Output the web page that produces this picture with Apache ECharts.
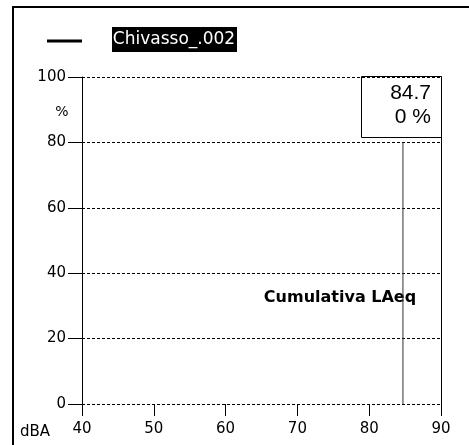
<!DOCTYPE html>
<html>
<head>
<meta charset="utf-8">
<script src="https://cdn.jsdelivr.net/npm/echarts@6/dist/echarts.min.js"></script>
<style>
  html, body { margin: 0; padding: 0; background: #fff; }
  #chart { width: 469px; height: 445px; }
</style>
</head>
<body>
<div id="chart"></div>
<script>
// Axis ranges and ticks
const xTicks = [40, 50, 60, 70, 80, 90];
const yTicks = [0, 20, 40, 60, 80, 100];
// Cursor position (dBA) and cumulative percentage read at it
const cursorLevel = 84.7;
const cursorPercent = 0;
// Vertical extent of the cursor line (%)
const cursorSpan = [0, 80];
const seriesName = 'Chivasso_.002';
const chartTitle = 'Cumulativa LAeq';

const chart = echarts.init(document.getElementById('chart'), null, { renderer: 'canvas' });

const labelFont = 'DejaVu Sans';

chart.setOption({
  animation: false,
  grid: { left: 82, top: 77, right: 28, bottom: 41, containLabel: false },
  xAxis: {
    type: 'value',
    min: xTicks[0], max: xTicks[xTicks.length - 1], interval: 10,
    axisLine: { show: false },
    axisTick: { show: true, length: 12, inside: false, lineStyle: { color: '#000', width: 1 } },
    axisLabel: { margin: 18, fontSize: 15, color: '#000', fontFamily: labelFont },
    splitLine: { show: false }
  },
  yAxis: [{
    type: 'value',
    min: yTicks[0], max: yTicks[yTicks.length - 1], interval: 20,
    axisLine: { show: true, lineStyle: { color: '#000', width: 1 } },
    axisTick: { show: true, length: 14, inside: false, lineStyle: { color: '#000', width: 1 } },
    axisLabel: { margin: 16, fontSize: 15, color: '#000', fontFamily: labelFont },
    splitLine: { show: true, lineStyle: { color: '#000', width: 1, type: [3, 2] } }
  }, {
    type: 'value', position: 'right',
    min: yTicks[0], max: yTicks[yTicks.length - 1], interval: 20,
    axisLine: { show: true, onZero: false, lineStyle: { color: '#000', width: 1 } },
    axisTick: { show: false }, axisLabel: { show: false }, splitLine: { show: false }
  }],
  series: [{
    name: 'cursor',
    type: 'line',
    data: cursorSpan.map(v => [cursorLevel, v]),
    symbol: 'none',
    lineStyle: { color: '#333', width: 1 },
    silent: true
  }],
  graphic: [
    // outer frame
    { type: 'polyline', shape: { points: [[13, 445], [13, 7], [469, 7]] },
      style: { stroke: '#000', lineWidth: 2, fill: null } },
    // legend
    { type: 'line', shape: { x1: 47, y1: 41, x2: 82, y2: 41 }, style: { stroke: '#000', lineWidth: 3 } },
    { type: 'rect', shape: { x: 112, y: 27, width: 125, height: 25 }, style: { fill: '#000' } },
    { type: 'text', x: 174, y: 40, style: { text: seriesName, fill: '#fff', font: '17px "DejaVu Sans"', align: 'center', verticalAlign: 'middle' } },
    // axis names
    { type: 'text', x: 62, y: 112, style: { text: '%', fill: '#000', font: '14px "DejaVu Sans"', align: 'center', verticalAlign: 'middle' } },
    { type: 'text', x: 20, y: 432, style: { text: 'dBA', fill: '#000', font: '15px "DejaVu Sans"', align: 'left', verticalAlign: 'middle' } },
    // cursor readout box
    { type: 'rect', shape: { x: 361.5, y: 76.5, width: 80, height: 61 }, style: { fill: '#fff', stroke: '#000', lineWidth: 1 } },
    { type: 'text', x: 431, y: 93, style: { text: cursorLevel.toFixed(1), fill: '#000', font: '21px "Liberation Sans", Arial, sans-serif', align: 'right', verticalAlign: 'middle' } },
    { type: 'text', x: 431, y: 117, style: { text: cursorPercent + ' %', fill: '#000', font: '21px "Liberation Sans", Arial, sans-serif', align: 'right', verticalAlign: 'middle' } },
    // chart title
    { type: 'text', x: 340, y: 298, style: { text: chartTitle, fill: '#000', font: 'bold 16px "DejaVu Sans"', align: 'center', verticalAlign: 'middle' } }
  ]
});
</script>
</body>
</html>
